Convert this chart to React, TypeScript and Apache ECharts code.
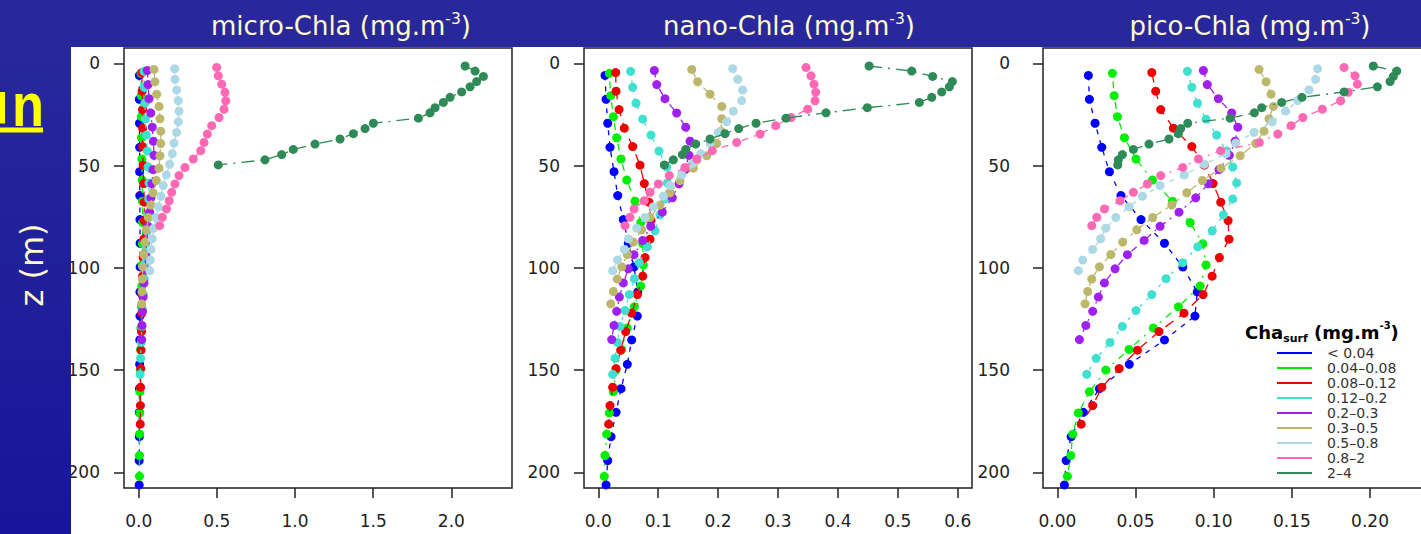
import React, { useEffect, useRef } from "react";
import * as echarts from "echarts";

// ---------- categories / ticks ----------
const CLASS_LABELS = ["< 0.04", "0.04–0.08", "0.08–0.12", "0.12–0.2", "0.2–0.3", "0.3–0.5", "0.5–0.8", "0.8–2", "2–4"];
const CLASS_COLORS = ["#0000ff", "#00ee00", "#ee0000", "#40e0d0", "#a020f0", "#bdb76b", "#add8e6", "#ff69b4", "#2e8b57"];
const DEPTH_TICKS = [0, 50, 100, 150, 200];
const MICRO_TICKS = [0, 0.5, 1, 1.5, 2];
const NANO_TICKS = [0, 0.1, 0.2, 0.3, 0.4, 0.5, 0.6];
const PICO_TICKS = [0, 0.05, 0.1, 0.15, 0.2];
const PANEL_TITLES = ["micro-Chla (mg.m", "nano-Chla (mg.m", "pico-Chla (mg.m"];

// ---------- depths (m) of each class profile ----------
const DEPTH_BLUE = [5.9, 17.6, 29.3, 41.1, 53.0, 64.7, 76.4, 88.0, 99.6, 111.8, 123.6, 135.3, 147.2, 159.1, 170.7, 182.6, 194.3, 206.2];
const DEPTH_GREEN = [4.9, 15.8, 26.1, 36.4, 46.8, 57.1, 67.4, 77.9, 88.2, 98.6, 108.9, 119.1, 129.4, 139.9, 150.0, 160.6, 171.0, 181.3, 191.8, 202.0];
const DEPTH_RED = [4.5, 13.6, 22.6, 31.7, 40.7, 49.8, 58.8, 67.9, 76.9, 86.0, 95.0, 104.1, 113.1, 122.2, 131.2, 140.3, 149.3, 158.4, 167.4, 176.5];
const DEPTH_TURQ = [3.9, 11.7, 19.5, 27.3, 35.1, 42.9, 50.7, 58.5, 66.3, 74.1, 81.9, 89.7, 97.5, 105.3, 113.1, 120.9, 128.7, 136.5, 144.3, 152.1];
const DEPTH_PURPLE = [3.5, 10.4, 17.3, 24.3, 31.2, 38.1, 45.0, 52.0, 58.9, 65.8, 72.8, 79.7, 86.6, 93.6, 100.5, 107.4, 114.3, 121.3, 128.2, 135.1];
const DEPTH_KHAKI = [3.0, 9.0, 15.1, 21.1, 27.1, 33.2, 39.2, 45.2, 51.3, 57.3, 63.3, 69.3, 75.4, 81.4, 87.4, 93.5, 99.5, 105.5, 111.6, 117.6];
const DEPTH_LIGHTBLUE = [2.6, 7.8, 13.0, 18.2, 23.4, 28.6, 33.8, 39.0, 44.2, 49.4, 54.6, 59.8, 65.0, 70.2, 75.4, 80.6, 85.8, 91.0, 96.2, 101.4];
const DEPTH_PINK = [2.0, 6.1, 10.2, 14.2, 18.3, 22.4, 26.5, 30.5, 34.6, 38.7, 42.7, 46.8, 50.9, 54.9, 59.0, 63.1, 67.2, 71.2, 75.3, 79.4];
const DEPTH_SEAGREEN = [1.3, 3.8, 6.4, 8.9, 11.5, 14.0, 16.6, 19.1, 21.7, 24.2, 26.8, 29.3, 31.9, 34.4, 37.0, 39.5, 42.1, 44.6, 47.2, 49.7];

// ---------- micro-Chla ----------
const MICRO_BLUE = [0.004, 0.004, 0.005, 0.006, 0.006, 0.007, 0.008, 0.009, 0.009, 0.008, 0.008, 0.007, 0.006, 0.005, 0.004, 0.004, 0.003, 0.003];
const MICRO_GREEN = [0.015, 0.016, 0.017, 0.018, 0.02, 0.022, 0.024, 0.025, 0.024, 0.022, 0.02, 0.017, 0.014, 0.012, 0.01, 0.008, 0.007, 0.006, 0.005, 0.005];
const MICRO_RED = [0.02, 0.022, 0.025, 0.025, 0.025, 0.028, 0.032, 0.036, 0.035, 0.032, 0.028, 0.025, 0.022, 0.02, 0.018, 0.015, 0.013, 0.012, 0.011, 0.01];
const MICRO_TURQ = [0.034, 0.036, 0.04, 0.043, 0.049, 0.055, 0.06, 0.066, 0.064, 0.06, 0.055, 0.049, 0.043, 0.036, 0.03, 0.025, 0.02, 0.016, 0.012, 0.009];
const MICRO_PURPLE = [0.055, 0.06, 0.066, 0.077, 0.087, 0.094, 0.098, 0.092, 0.085, 0.078, 0.07, 0.06, 0.052, 0.045, 0.04, 0.034, 0.028, 0.024, 0.021, 0.019];
const MICRO_KHAKI = [0.098, 0.104, 0.115, 0.13, 0.136, 0.141, 0.141, 0.136, 0.13, 0.113, 0.092, 0.078, 0.062, 0.05, 0.04, 0.032, 0.026, 0.023, 0.021, 0.019];
const MICRO_LIGHTBLUE = [0.23, 0.232, 0.243, 0.253, 0.258, 0.253, 0.243, 0.226, 0.215, 0.198, 0.177, 0.157, 0.142, 0.126, 0.11, 0.097, 0.086, 0.079, 0.074, 0.071];
const MICRO_PINK = [0.499, 0.509, 0.531, 0.552, 0.557, 0.546, 0.514, 0.467, 0.439, 0.418, 0.397, 0.349, 0.296, 0.258, 0.232, 0.211, 0.195, 0.178, 0.151, 0.134];
const MICRO_SEAGREEN = [2.088, 2.152, 2.205, 2.162, 2.12, 2.066, 1.992, 1.949, 1.896, 1.864, 1.789, 1.501, 1.448, 1.373, 1.288, 1.128, 0.989, 0.915, 0.808, 0.509];

// ---------- nano-Chla ----------
const NANO_BLUE = [0.0112, 0.0129, 0.0157, 0.0195, 0.0262, 0.0324, 0.0417, 0.0501, 0.0596, 0.0658, 0.0651, 0.0557, 0.0484, 0.0379, 0.0296, 0.0212, 0.0157, 0.0129];
const NANO_GREEN = [0.0184, 0.0207, 0.025, 0.0307, 0.0379, 0.0474, 0.0613, 0.0708, 0.0741, 0.0751, 0.0708, 0.0601, 0.0484, 0.039, 0.0296, 0.025, 0.0184, 0.014, 0.0112, 0.01];
const NANO_RED = [0.029, 0.0296, 0.0346, 0.0434, 0.0574, 0.0696, 0.0768, 0.0846, 0.088, 0.0863, 0.078, 0.0741, 0.0651, 0.0557, 0.0457, 0.0373, 0.0296, 0.024, 0.0195, 0.0173];
const NANO_TURQ = [0.054, 0.0574, 0.0629, 0.0741, 0.088, 0.1013, 0.1141, 0.1152, 0.1113, 0.103, 0.0947, 0.0818, 0.0684, 0.0601, 0.0518, 0.0446, 0.0362, 0.0317, 0.0279, 0.024];
const NANO_PURPLE = [0.0935, 0.0975, 0.1113, 0.1308, 0.1459, 0.1531, 0.1514, 0.1447, 0.1347, 0.1235, 0.1068, 0.0875, 0.0741, 0.0596, 0.0501, 0.0417, 0.0351, 0.0307, 0.0262, 0.0224];
const NANO_KHAKI = [0.1559, 0.1659, 0.1865, 0.206, 0.206, 0.2048, 0.1976, 0.181, 0.1586, 0.1364, 0.1197, 0.103, 0.0863, 0.0724, 0.0584, 0.0484, 0.0391, 0.0317, 0.025, 0.0207];
const NANO_LIGHTBLUE = [0.2243, 0.2327, 0.241, 0.2394, 0.2254, 0.2143, 0.2003, 0.1865, 0.1709, 0.1559, 0.1392, 0.1197, 0.1085, 0.0918, 0.078, 0.0641, 0.0501, 0.0434, 0.032, 0.024];
const NANO_PINK = [0.3467, 0.3551, 0.3601, 0.3629, 0.3618, 0.3495, 0.3217, 0.2961, 0.27, 0.231, 0.1903, 0.1643, 0.1447, 0.1185, 0.1002, 0.0863, 0.0768, 0.0596, 0.0529, 0.0446];
const NANO_SEAGREEN = [0.452, 0.5232, 0.5582, 0.591, 0.586, 0.5733, 0.5566, 0.5359, 0.4491, 0.3801, 0.3134, 0.2633, 0.2344, 0.2115, 0.1865, 0.1626, 0.1459, 0.1403, 0.1252, 0.1102];

// ---------- pico-Chla ----------
const PICO_BLUE = [0.0198, 0.0205, 0.0241, 0.0284, 0.0333, 0.0407, 0.0535, 0.0685, 0.0802, 0.0895, 0.088, 0.0685, 0.046, 0.0269, 0.0166, 0.0088, 0.0056, 0.0045];
const PICO_GREEN = [0.0352, 0.0363, 0.0384, 0.0429, 0.0503, 0.0608, 0.0736, 0.0849, 0.093, 0.0951, 0.0913, 0.0774, 0.0614, 0.0459, 0.031, 0.0205, 0.0134, 0.0098, 0.0086, 0.0064];
const PICO_RED = [0.0604, 0.0629, 0.0661, 0.0742, 0.086, 0.094, 0.0996, 0.1045, 0.1092, 0.1098, 0.1036, 0.099, 0.0932, 0.081, 0.065, 0.0512, 0.0395, 0.0284, 0.0226, 0.0152];
const PICO_TURQ = [0.0832, 0.086, 0.0896, 0.0951, 0.1019, 0.1083, 0.1122, 0.1147, 0.1122, 0.1062, 0.0991, 0.0898, 0.0802, 0.0695, 0.0604, 0.0503, 0.0416, 0.0337, 0.0248, 0.0188];
const PICO_PURPLE = [0.0934, 0.0959, 0.103, 0.1115, 0.1154, 0.1137, 0.11, 0.1034, 0.0966, 0.0885, 0.0778, 0.0657, 0.0555, 0.0448, 0.0369, 0.0301, 0.0262, 0.0226, 0.0182, 0.0141];
const PICO_KHAKI = [0.129, 0.1335, 0.1367, 0.1382, 0.1354, 0.1322, 0.1269, 0.1169, 0.1047, 0.0928, 0.0828, 0.0732, 0.061, 0.0508, 0.0418, 0.0342, 0.0269, 0.022, 0.0194, 0.0177];
const PICO_LIGHTBLUE = [0.1665, 0.1652, 0.161, 0.1537, 0.146, 0.1375, 0.1258, 0.1141, 0.1079, 0.094, 0.0812, 0.0657, 0.0545, 0.0459, 0.0374, 0.031, 0.0277, 0.0226, 0.0162, 0.0134];
const PICO_PINK = [0.1834, 0.1904, 0.1919, 0.1861, 0.1812, 0.1695, 0.157, 0.1495, 0.141, 0.1292, 0.1045, 0.0902, 0.0802, 0.0661, 0.0576, 0.0486, 0.0401, 0.0301, 0.0252, 0.022];
const PICO_SEAGREEN = [0.2021, 0.2171, 0.2149, 0.2128, 0.2047, 0.1834, 0.1565, 0.1435, 0.1307, 0.126, 0.1105, 0.0834, 0.0789, 0.0774, 0.0714, 0.0586, 0.0486, 0.0416, 0.039, 0.0386];

const CLASS_DEPTHS = [DEPTH_BLUE, DEPTH_GREEN, DEPTH_RED, DEPTH_TURQ, DEPTH_PURPLE, DEPTH_KHAKI, DEPTH_LIGHTBLUE, DEPTH_PINK, DEPTH_SEAGREEN];
const MICRO = [MICRO_BLUE, MICRO_GREEN, MICRO_RED, MICRO_TURQ, MICRO_PURPLE, MICRO_KHAKI, MICRO_LIGHTBLUE, MICRO_PINK, MICRO_SEAGREEN];
const NANO = [NANO_BLUE, NANO_GREEN, NANO_RED, NANO_TURQ, NANO_PURPLE, NANO_KHAKI, NANO_LIGHTBLUE, NANO_PINK, NANO_SEAGREEN];
const PICO = [PICO_BLUE, PICO_GREEN, PICO_RED, PICO_TURQ, PICO_PURPLE, PICO_KHAKI, PICO_LIGHTBLUE, PICO_PINK, PICO_SEAGREEN];

// ---------- styles ----------
const DASHES = [[5, 6], [2, 6, 7, 6], [10, 7], [3, 6], [7, 5, 2, 5], [9, 5, 3, 5], [5, 6], [2, 6, 7, 6], [13, 6, 2, 6]];
const FONT = "DejaVu Sans";
const CREAM = "#fffacd";

const PANEL_LAYOUT = [
  { left: 124, xMin: -0.094, xMax: 2.388, ticks: MICRO_TICKS, digits: 1, labelMargin: 24 },
  { left: 584, xMin: -0.0239, xMax: 0.6238, ticks: NANO_TICKS, digits: 1, labelMargin: 24 },
  { left: 1043, xMin: -0.0092, xMax: 0.239, ticks: PICO_TICKS, digits: 2, labelMargin: 33 },
];
const TITLE_X = [341, 789, 1250];

export default function App() {
  const ref = useRef<HTMLDivElement>(null);

  useEffect(() => {
    if (!ref.current) return;
    const chart = echarts.init(ref.current, null, { renderer: "svg" });
    const panelValues = [MICRO, NANO, PICO];

    const grid = PANEL_LAYOUT.map((p) => ({
      left: p.left,
      top: 48,
      width: 388,
      height: 440,
      show: true,
      borderColor: "#222",
      borderWidth: 1.5,
      backgroundColor: "transparent",
      containLabel: false,
      outerBoundsMode: "none",
    }));

    const xAxis = PANEL_LAYOUT.map((p, i) => ({
      type: "value",
      gridIndex: i,
      min: p.xMin,
      max: p.xMax,
      position: "bottom",
      axisLine: { show: false, onZero: false },
      splitLine: { show: false },
      axisTick: { show: true, length: 10, lineStyle: { color: "#222", width: 1.5 }, customValues: p.ticks },
      axisLabel: {
        customValues: p.ticks,
        margin: 24,
        color: "#222",
        fontFamily: FONT,
        fontSize: 17,
        formatter: (v: number) => v.toFixed(p.digits),
      },
    }));

    const yAxis = PANEL_LAYOUT.map((p, i) => ({
      type: "value",
      gridIndex: i,
      inverse: true,
      min: -7.5,
      max: 207.7,
      position: "left",
      axisLine: { show: false, onZero: false },
      splitLine: { show: false },
      axisTick: { show: true, length: 10, lineStyle: { color: "#222", width: 1.5 }, customValues: DEPTH_TICKS },
      axisLabel: {
        customValues: DEPTH_TICKS,
        margin: p.labelMargin,
        color: "#222",
        fontFamily: FONT,
        fontSize: 17,
        formatter: (v: number) => String(v),
      },
    }));

    const series: any[] = [];
    panelValues.forEach((classes, pi) => {
      classes.forEach((vals, ci) => {
        const depths = CLASS_DEPTHS[ci];
        series.push({
          type: "line",
          name: CLASS_LABELS[ci],
          xAxisIndex: pi,
          yAxisIndex: pi,
          data: vals.map((v, k) => [v, depths[k]]),
          symbol: "circle",
          symbolSize: 9,
          showSymbol: true,
          showAllSymbol: true,
          silent: true,
          z: 2 + ci,
          itemStyle: { color: CLASS_COLORS[ci] },
          lineStyle: { color: CLASS_COLORS[ci], width: 1.3, type: DASHES[ci] },
          emphasis: { disabled: true },
        });
      });
    });

    const titleRich = {
      a: { fill: CREAM, fontFamily: FONT, fontSize: 26, lineHeight: 30 },
      s: { fill: CREAM, fontFamily: FONT, fontSize: 15.5, lineHeight: 22, verticalAlign: "top" },
    };

    const graphic: any[] = [
      { type: "rect", z: 100, shape: { x: 0, y: 0, width: 1421, height: 47 }, style: { fill: "#29289b" } },
      {
        type: "rect",
        z: 100,
        shape: { x: 0, y: 47, width: 71, height: 487 },
        style: {
          fill: {
            type: "linear", x: 0, y: 0, x2: 0, y2: 1,
            colorStops: [
              { offset: 0, color: "#28289c" },
              { offset: 1, color: "#18159a" },
            ],
          },
        },
      },
      ...PANEL_TITLES.map((t, i) => ({
        type: "text",
        z: 101,
        x: TITLE_X[i],
        y: 25.5,
        style: {
          text: `{a|${t}}{s|-3}{a|)}`,
          rich: titleRich,
          textAlign: "center",
          textVerticalAlign: "middle",
        },
      })),
      {
        type: "text",
        z: 101,
        x: 32,
        y: 265,
        rotation: Math.PI / 2,
        style: {
          text: "z (m)",
          fill: CREAM,
          fontFamily: FONT,
          fontSize: 32,
          textAlign: "center",
          textVerticalAlign: "middle",
        },
      },
      {
        type: "text",
        z: 101,
        x: 44,
        y: 105,
        scaleX: 0.86,
        style: {
          text: "n",
          fill: "#ffff00",
          fontFamily: "Liberation Sans",
          fontWeight: "bold",
          fontSize: 61,
          textAlign: "right",
          textVerticalAlign: "middle",
        },
      },
      { type: "rect", z: 101, shape: { x: 0, y: 92, width: 5, height: 31.5 }, style: { fill: "#ffff00" } },
      { type: "rect", z: 101, shape: { x: 0, y: 127.5, width: 43, height: 5 }, style: { fill: "#ffff00" } },
      {
        type: "text",
        z: 101,
        x: 1245,
        y: 332,
        style: {
          text: "{b|Cha}{sub|surf}{b| (mg.m}{sup|-3}{b|)}",
          textAlign: "left",
          textVerticalAlign: "middle",
          rich: {
            b: { fill: "#000", fontFamily: FONT, fontWeight: "bold", fontSize: 18, lineHeight: 24 },
            sub: { fill: "#000", fontFamily: FONT, fontWeight: "bold", fontSize: 11, lineHeight: 12, verticalAlign: "bottom" },
            sup: { fill: "#000", fontFamily: FONT, fontWeight: "bold", fontSize: 10, lineHeight: 12, verticalAlign: "top" },
          },
        },
      },
    ];

    chart.setOption({
      animation: false,
      backgroundColor: "#ffffff",
      grid,
      xAxis,
      yAxis,
      series,
      legend: {
        orient: "vertical",
        left: 1277,
        top: 345.5,
        itemWidth: 35,
        itemHeight: 2,
        itemGap: 0,
        icon: "rect",
        selectedMode: false,
        padding: 0,
        data: CLASS_LABELS,
        itemStyle: { borderWidth: 0 },
        textStyle: { fontFamily: FONT, fontSize: 14, color: "#333", lineHeight: 15, padding: [0, 0, 0, 10] },
      },
      graphic,
    });

    return () => chart.dispose();
  }, []);

  return <div ref={ref} style={{ position: "absolute", left: 0, top: 0, width: 1421, height: 534 }} />;
}
